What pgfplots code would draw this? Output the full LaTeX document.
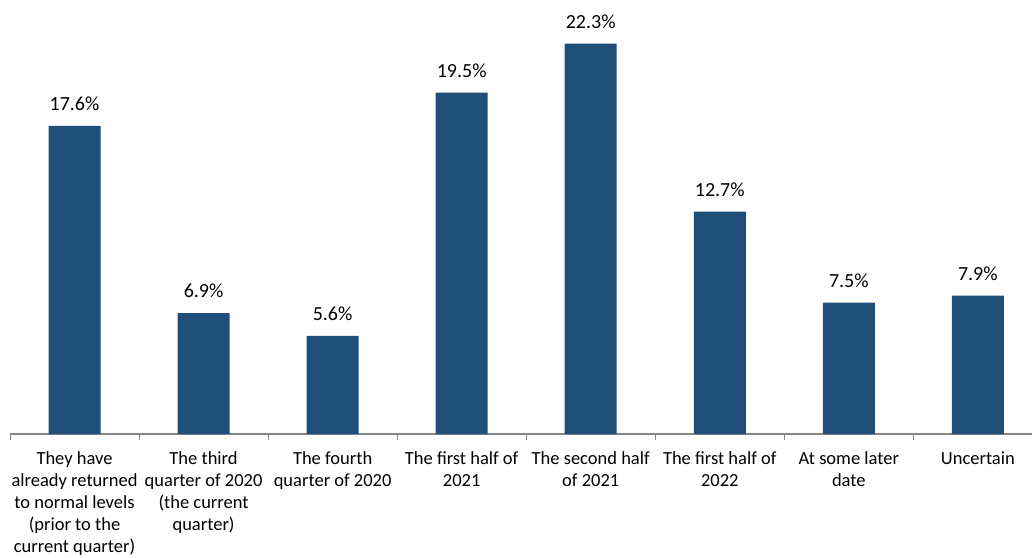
\documentclass[border=0pt]{standalone}
\usepackage{pgfplots}
\pgfplotsset{compat=1.18}
\usepackage{fontspec}
\setmainfont{Carlito}
\definecolor{barblue}{RGB}{31,78,121}
\definecolor{axgray}{RGB}{134,134,134}
\begin{document}
\begin{tikzpicture}
\begin{axis}[
  scale only axis,
  width=1032.5bp, height=434bp,
  xmin=-0.5, xmax=7.5,
  ymin=0, ymax=24.8,
  axis y line=none,
  axis x line*=bottom,
  axis line style={axgray, line width=1.3pt},
  xtick={0,...,7},
  major tick length=0pt,
  xticklabels={{They have\\already returned\\to normal levels\\(prior to the\\current quarter)},
    {The third\\quarter of 2020\\(the current\\quarter)},
    {The fourth\\quarter of 2020},
    {The first half of\\2021},
    {The second half\\of 2021},
    {The first half of\\2022},
    {At some later\\date},
    {Uncertain}},
  xticklabel style={align=center, anchor=north, inner sep=0pt, yshift=-17.5bp,
    font=\fontsize{18.5bp}{22bp}\selectfont},
  extra x ticks={-0.5,0.5,1.5,2.5,3.5,4.5,5.5,6.5,7.5},
  extra x tick labels={},
  extra x tick style={major tick length=6bp, tick align=outside, tick style={axgray, line width=0.8pt}, grid=none},
  ybar, bar width=52bp,
  clip=false,
  /pgf/number format/assume math mode=true,
  nodes near coords={\pgfmathprintnumber[fixed,fixed zerofill,precision=1]{\pgfplotspointmeta}\%},
  every node near coord/.append style={anchor=base, inner sep=0pt, yshift=15.5bp,
    font=\fontsize{20bp}{24bp}\selectfont, text=black},
]
\addplot[fill=barblue, draw=none] coordinates {
  (0,17.6) (1,6.9) (2,5.6) (3,19.5) (4,22.3) (5,12.7) (6,7.5) (7,7.9)
};
\coordinate (bl) at (rel axis cs:0,0);
\coordinate (tr) at (rel axis cs:1,1);
\end{axis}
\pgfresetboundingbox
\path[use as bounding box] ([xshift=-10bp,yshift=-124bp]bl) rectangle ([xshift=1022bp]bl |- tr);
\end{tikzpicture}
\end{document}
